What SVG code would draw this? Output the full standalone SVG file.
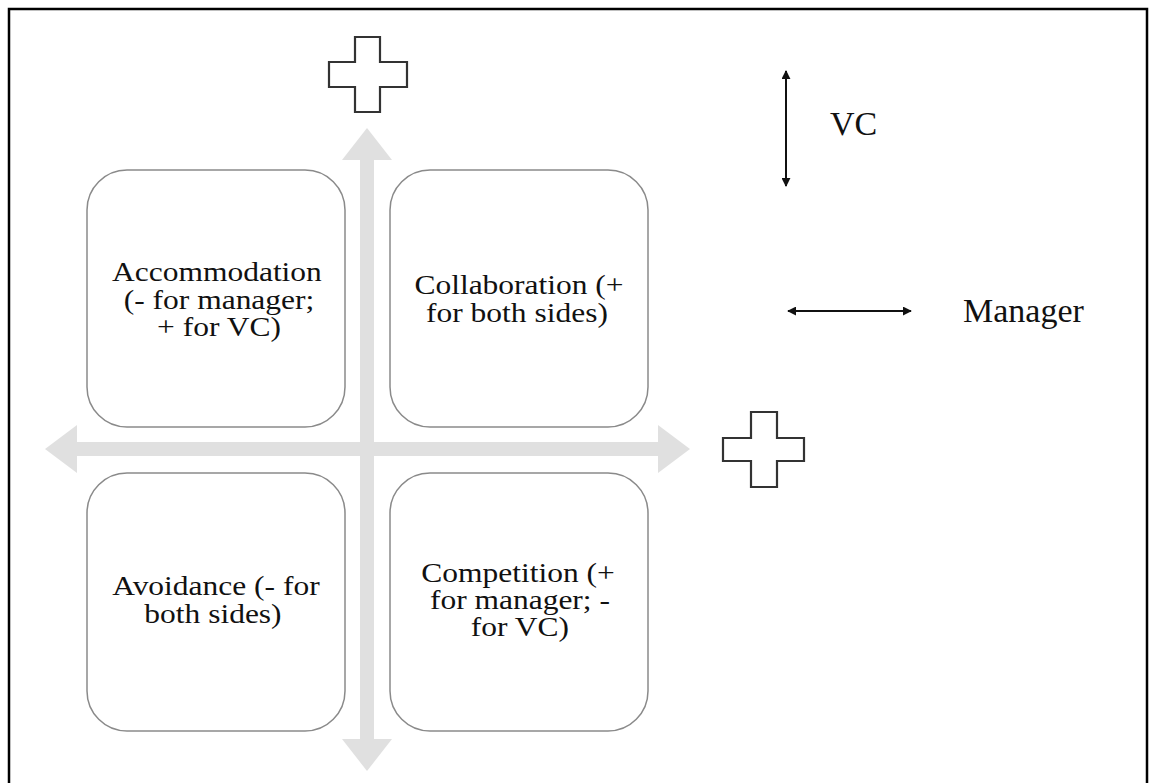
<svg xmlns="http://www.w3.org/2000/svg" width="1149" height="783" viewBox="0 0 1149 783">
<defs>
<style>
.box{fill:#fff;stroke:#8a8a8a;stroke-width:1.5}
.lbl{font-family:"Liberation Serif","Times New Roman",serif;font-size:27.5px;fill:#111;text-anchor:middle}
.side{font-family:"Liberation Serif","Times New Roman",serif;font-size:34px;fill:#111}
.axis{fill:#e0e0e0}
.plus{fill:#fff;stroke:#333;stroke-width:2.2}
.thin{stroke:#111;stroke-width:2;fill:none}
</style>
<marker id="ah" viewBox="0 0 10 10" refX="9" refY="5" markerWidth="4.5" markerHeight="4.5" orient="auto-start-reverse">
<path d="M0,0 L10,5 L0,10 z" fill="#111"/>
</marker>
</defs>
<rect x="0" y="0" width="1149" height="783" fill="#fff"/>
<rect x="9" y="9" width="1138" height="800" fill="none" stroke="#000" stroke-width="2.5"/>

<g id="connectors">
<path class="axis" d="M367,128 L392,160 L374,160 L374,739 L392,739 L367,771 L342,739 L360,739 L360,160 L342,160 Z"/>
<path class="axis" d="M45,449 L77,425 L77,442 L658,442 L658,425 L690,449 L658,473 L658,456 L77,456 L77,473 Z"/>
<line class="thin" x1="786" y1="71" x2="786" y2="186" marker-start="url(#ah)" marker-end="url(#ah)"/>
<line class="thin" x1="788" y1="311" x2="911" y2="311" marker-start="url(#ah)" marker-end="url(#ah)"/>
</g>

<g id="box-accommodation">
<rect class="box" x="87" y="170" width="258" height="257" rx="40"/>
<g transform="scale(1.145,1)">
<text class="lbl" x="189.5" y="281">Accommodation</text>
<text class="lbl" x="191.3" y="309">(- for manager;</text>
<text class="lbl" x="191.3" y="336">+ for VC)</text>
</g>
</g>
<g id="box-collaboration">
<rect class="box" x="390" y="170" width="258" height="257" rx="40"/>
<g transform="scale(1.145,1)">
<text class="lbl" x="453.3" y="294">Collaboration (+</text>
<text class="lbl" x="451.5" y="322">for both sides)</text>
</g>
</g>
<g id="box-avoidance">
<rect class="box" x="87" y="473" width="258" height="258" rx="40"/>
<g transform="scale(1.145,1)">
<text class="lbl" x="188.6" y="595">Avoidance (- for</text>
<text class="lbl" x="186" y="623">both sides)</text>
</g>
</g>
<g id="box-competition">
<rect class="box" x="390" y="473" width="258" height="258" rx="40"/>
<g transform="scale(1.145,1)">
<text class="lbl" x="452.4" y="582">Competition (+</text>
<text class="lbl" x="454.1" y="609">for manager; -</text>
<text class="lbl" x="454.1" y="636">for VC)</text>
</g>
</g>

<g id="plus-top">
<path class="plus" d="M355,37 H380 V62 H407 V87 H380 V112 H355 V87 H329 V62 H355 Z"/>
</g>
<g id="plus-right">
<path class="plus" d="M751,412 H777 V438 H804 V461 H777 V487 H751 V461 H723 V438 H751 Z"/>
</g>

<g id="legend-vc">
<text class="side" x="830" y="135">VC</text>
</g>
<g id="legend-manager">
<text class="side" x="963" y="322">Manager</text>
</g>
</svg>
